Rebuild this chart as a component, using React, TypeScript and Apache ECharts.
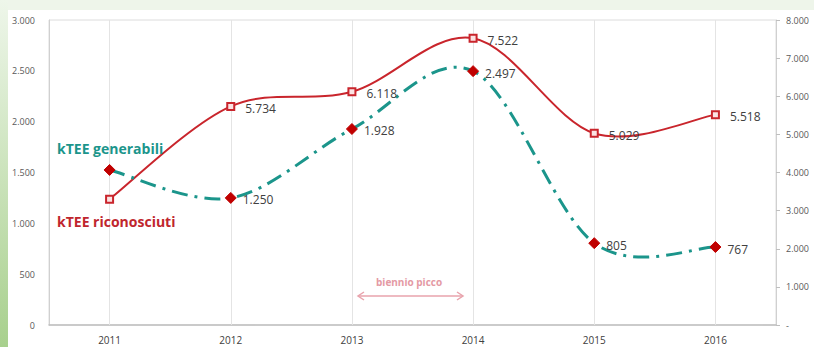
import React, { useEffect, useRef } from "react";
import * as echarts from "echarts";

const years = ["2011", "2012", "2013", "2014", "2015", "2016"];
const generabili = [1525, 1250, 1928, 2497, 805, 767];
const riconosciuti = [3300, 5734, 6118, 7522, 5029, 5518];
const generabiliLabels = [false, true, true, true, true, true];
const riconosciutiLabels = [false, true, true, true, true, true];

const fmt = (v: number) => String(Math.round(v)).replace(/\B(?=(\d{3})+(?!\d))/g, ".");

const TEAL = "#1b958b";
const RED = "#c9252c";

// Excel-like smoothed curve (Catmull-Rom → cubic Bézier) through the data points, in pixel space
function smoothPath(pts: number[][]): string {
  const n = pts.length;
  let d = `M${pts[0][0]},${pts[0][1]}`;
  for (let i = 0; i < n - 1; i++) {
    const p0 = pts[i - 1] || pts[i];
    const p1 = pts[i];
    const p2 = pts[i + 1];
    const p3 = pts[i + 2] || pts[i + 1];
    const c1x = p1[0] + (p2[0] - p0[0]) / 6;
    const c1y = p1[1] + (p2[1] - p0[1]) / 6;
    const c2x = p2[0] - (p3[0] - p1[0]) / 6;
    const c2y = p2[1] - (p3[1] - p1[1]) / 6;
    d += ` C${c1x},${c1y} ${c2x},${c2y} ${p2[0]},${p2[1]}`;
  }
  return d;
}

function curveSeries(values: number[], yAxisIndex: number, style: any, z: number) {
  return {
    type: "custom",
    coordinateSystem: "cartesian2d",
    yAxisIndex,
    silent: true,
    z,
    data: values.map((v, i) => [i, v]),
    renderItem: (params: any, api: any) => {
      if (params.dataIndex !== 0) return null;
      const pts = values.map((v, i) => api.coord([i, v]));
      return {
        type: "path",
        shape: { pathData: smoothPath(pts) },
        style: { fill: "none", ...style },
      };
    },
  };
}

export default function App() {
  const ref = useRef<HTMLDivElement>(null);
  useEffect(() => {
    if (!ref.current) return;
    const chart = echarts.init(ref.current, undefined, { renderer: "svg" });
    chart.setOption({
      animation: false,
      backgroundColor: "#ffffff",
      grid: { left: 49, right: 38, top: 20, bottom: 22, show: true, borderColor: "#dcdcdc", borderWidth: 1 },
      xAxis: {
        type: "category",
        data: years,
        boundaryGap: true,
        axisLine: { show: true, lineStyle: { color: "#bfbfbf", width: 1.5 } },
        axisTick: { show: false },
        splitLine: { show: false },
        axisLabel: { color: "#404040", fontSize: 10, fontFamily: "Open Sans", margin: 10 },
      },
      yAxis: [
        {
          type: "value",
          min: 0,
          max: 3000,
          interval: 500,
          position: "left",
          axisLine: { show: true, lineStyle: { color: "#d0d0d0" } },
          axisTick: { show: false },
          splitLine: { show: false },
          axisLabel: { color: "#595959", fontSize: 9, fontFamily: "Open Sans", formatter: (v: number) => fmt(v), margin: 14 },
        },
        {
          type: "value",
          min: 0,
          max: 8000,
          interval: 1000,
          position: "right",
          axisLine: { show: true, lineStyle: { color: "#d0d0d0" } },
          axisTick: { show: true, length: 4, lineStyle: { color: "#bfbfbf" } },
          splitLine: { show: false },
          axisLabel: { color: "#595959", fontSize: 9, fontFamily: "Open Sans", formatter: (v: number) => (v === 0 ? "-" : fmt(v)), margin: 10 },
        },
      ],
      series: [
        {
          type: "line",
          data: [],
          silent: true,
          z: 1,
          markLine: {
            silent: true,
            symbol: "none",
            label: { show: false },
            lineStyle: { color: "#e4e4e4", width: 1, type: "solid" },
            data: years.map((y) => ({ xAxis: y })),
          },
        },
        curveSeries(riconosciuti, 1, { stroke: RED, lineWidth: 2 }, 2),
        curveSeries(generabili, 0, { stroke: TEAL, lineWidth: 3, lineDash: [16, 7, 3, 7] }, 3),
        {
          name: "kTEE riconosciuti",
          type: "line",
          yAxisIndex: 1,
          data: riconosciuti.map((v, i) => ({ value: v, label: { show: riconosciutiLabels[i] } })),
          symbol: "rect",
          symbolSize: 7,
          itemStyle: { color: "#fbe3e3", borderColor: RED, borderWidth: 2 },
          lineStyle: { opacity: 0, width: 0 },
          label: {
            position: "right",
            distance: 10,
            offset: [0, 2],
            color: "#404040",
            fontSize: 12,
            fontFamily: "Open Sans",
            formatter: (p: any) => fmt(p.value),
          },
          z: 5,
        },
        {
          name: "kTEE generabili",
          type: "line",
          yAxisIndex: 0,
          data: generabili.map((v, i) => ({ value: v, label: { show: generabiliLabels[i] } })),
          symbol: "diamond",
          symbolSize: 11,
          itemStyle: { color: "#c00000", borderColor: "#c00000" },
          lineStyle: { opacity: 0, width: 0 },
          label: {
            position: "right",
            distance: 6,
            offset: [0, 2],
            color: "#404040",
            fontSize: 12,
            fontFamily: "Open Sans",
            formatter: (p: any) => fmt(p.value),
          },
          z: 6,
        },
      ],
      graphic: [
        {
          type: "rect",
          shape: { x: 0, y: 0, width: 814, height: 10 },
          style: { fill: "#eef5ea" },
          silent: true,
          z: 0,
        },
        {
          type: "rect",
          shape: { x: 0, y: 0, width: 8, height: 347 },
          style: {
            fill: new echarts.graphic.LinearGradient(0, 0, 0, 1, [
              { offset: 0, color: "#eef6ea" },
              { offset: 1, color: "#a8d08d" },
            ]),
          },
          silent: true,
          z: 0,
        },
        {
          type: "text",
          left: 57,
          top: 141,
          style: { text: "kTEE generabili", fill: TEAL, font: "bold 14px 'Open Sans'" },
          z: 10,
        },
        {
          type: "text",
          left: 57,
          top: 214,
          style: { text: "kTEE riconosciuti", fill: "#c0262d", font: "bold 14px 'Open Sans'" },
          z: 10,
        },
        {
          type: "text",
          left: 376,
          top: 277,
          style: { text: "biennio picco", fill: "#e49aa4", font: "bold 10px 'Open Sans'" },
          z: 10,
        },
        {
          type: "line",
          shape: { x1: 358, y1: 296, x2: 463, y2: 296 },
          style: { stroke: "#e8a3ac", lineWidth: 1.5 },
          z: 10,
        },
        {
          type: "polyline",
          shape: { points: [[364, 292], [358, 296], [364, 300]] },
          style: { stroke: "#e8a3ac", lineWidth: 1.5, fill: "none" },
          z: 10,
        },
        {
          type: "polyline",
          shape: { points: [[457, 292], [463, 296], [457, 300]] },
          style: { stroke: "#e8a3ac", lineWidth: 1.5, fill: "none" },
          z: 10,
        },
      ],
    });
    return () => chart.dispose();
  }, []);
  return <div ref={ref} style={{ position: "fixed", left: 0, top: 0, width: 814, height: 347 }} />;
}
